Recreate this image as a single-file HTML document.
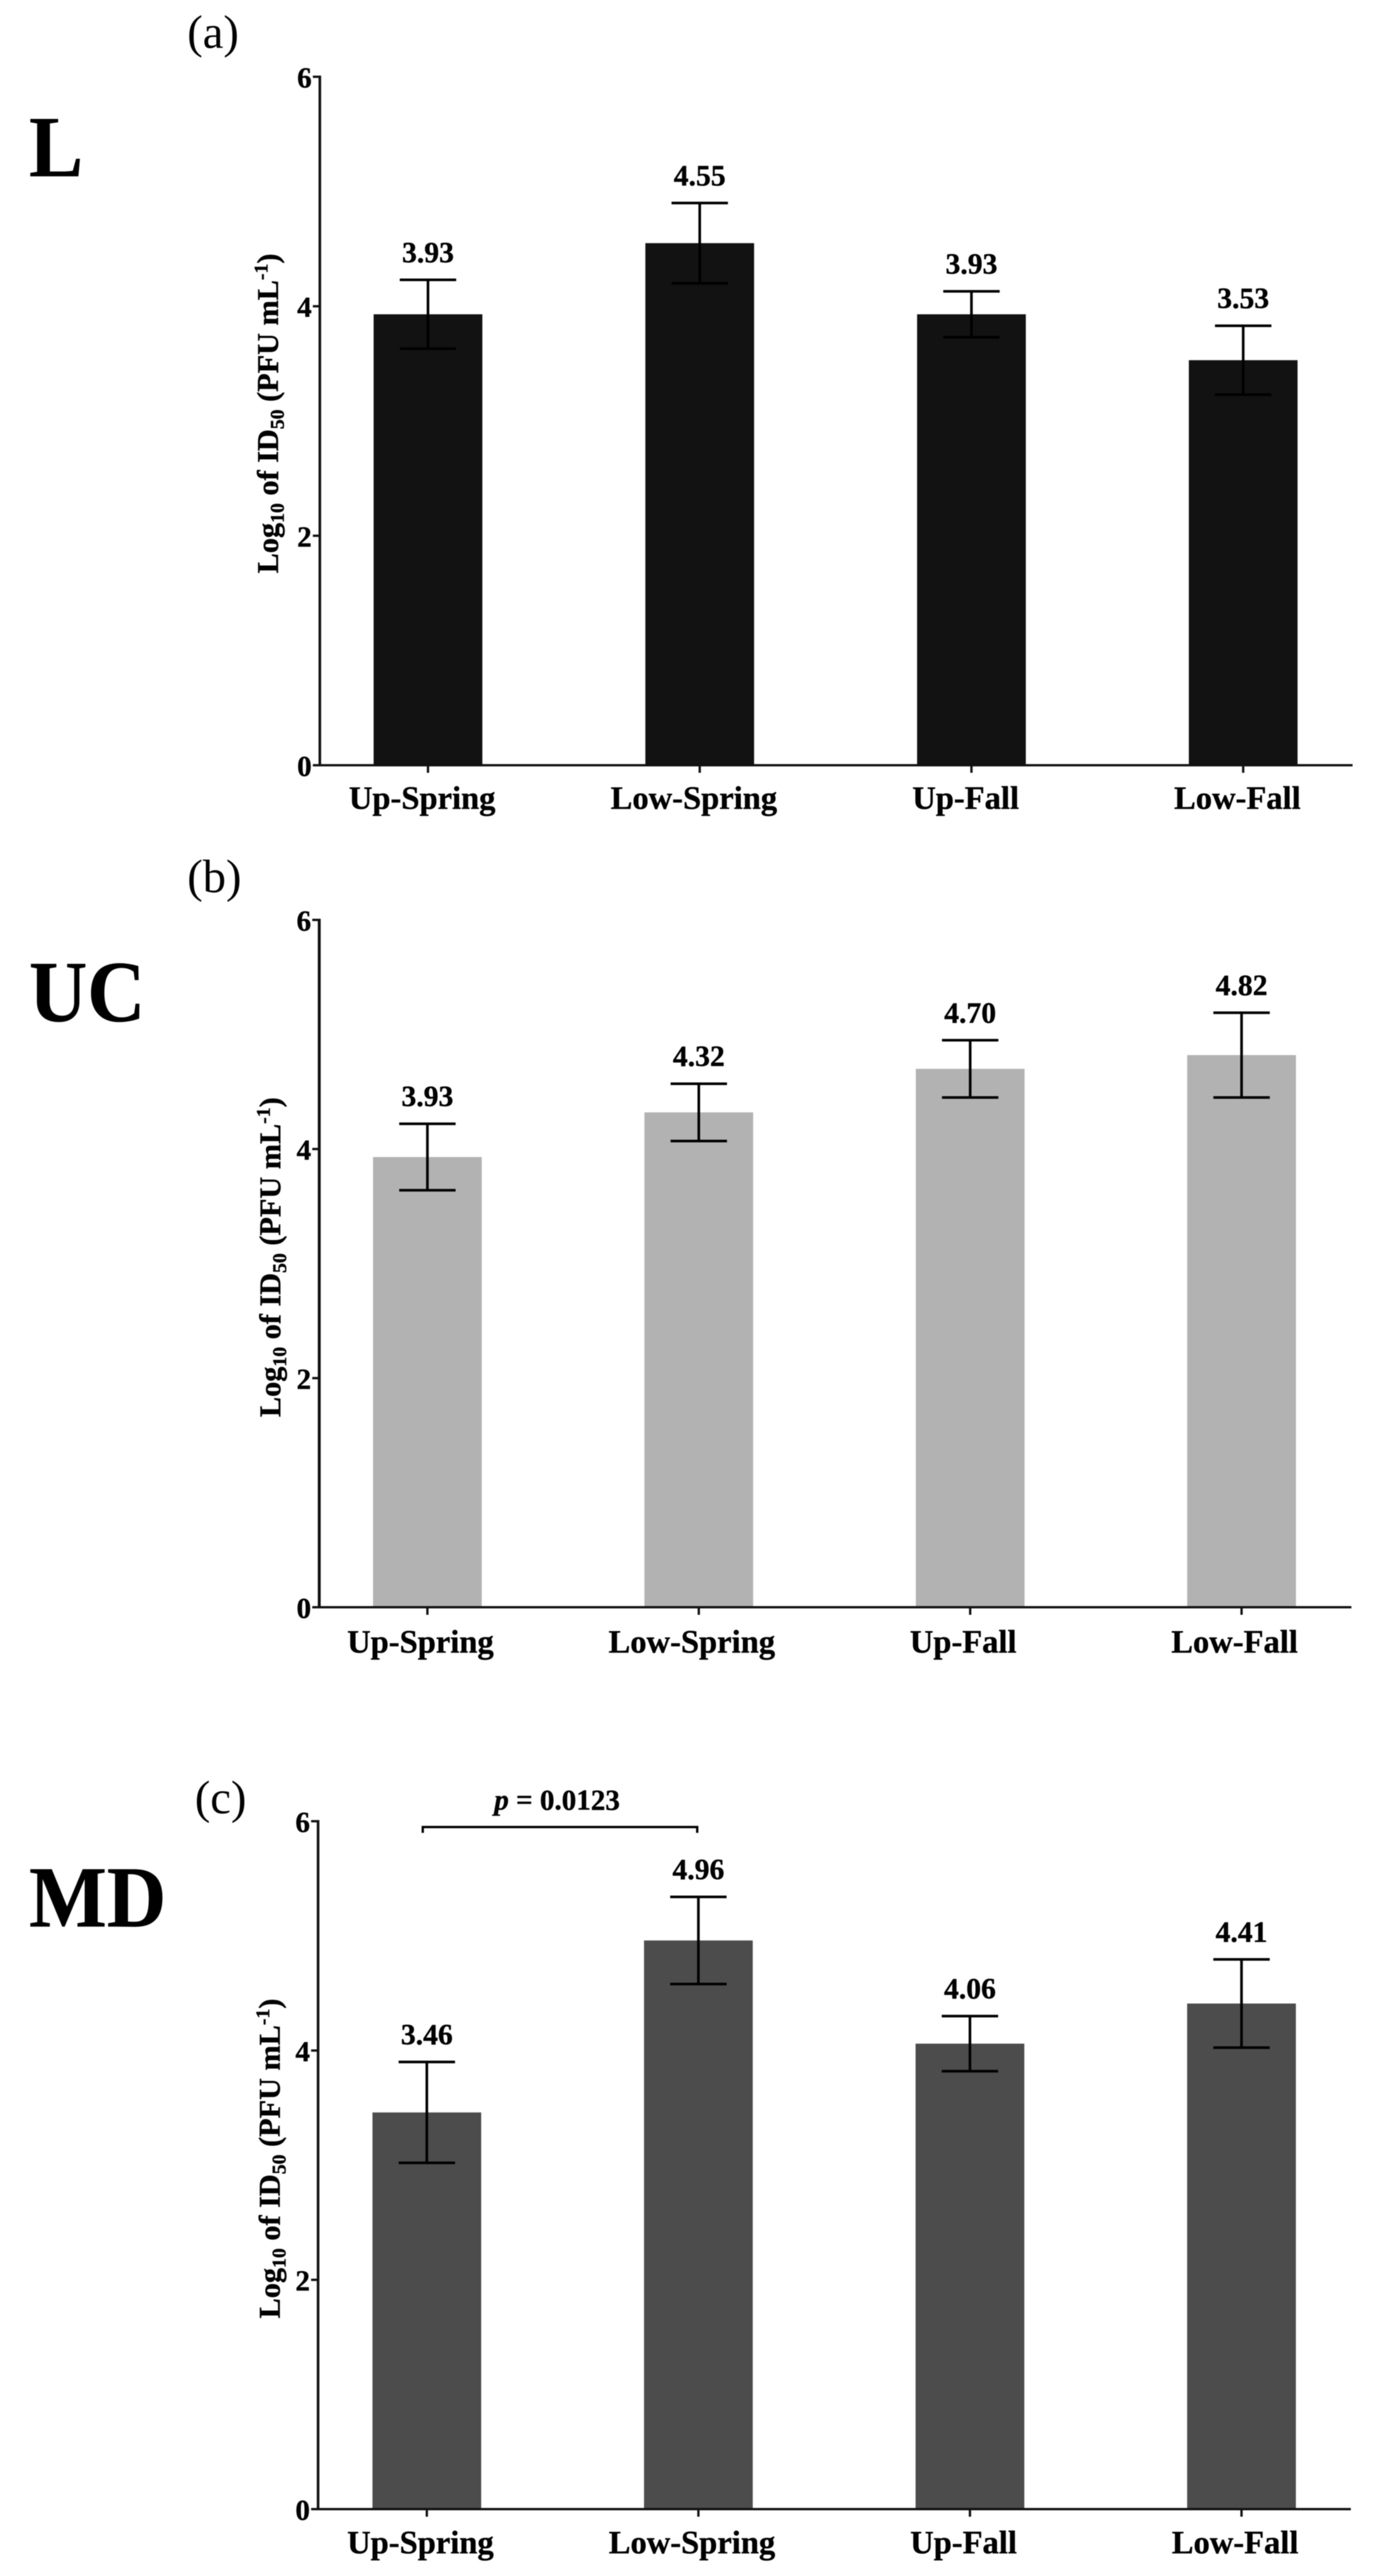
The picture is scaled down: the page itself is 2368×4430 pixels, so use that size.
<!DOCTYPE html>
<html lang="en">
<head>
<meta charset="utf-8">
<title>Log10 of ID50 by site and season</title>
<style>
html,body{margin:0;padding:0;background:#fff;width:2368px;height:4430px;overflow:hidden}
svg{display:block;filter:blur(0.7px)}
text{font-family:"Liberation Serif",serif;fill:#000}
.b,text[font-weight="bold"]{font-weight:bold;stroke:#000;stroke-width:0.6px}
</style>
</head>
<body>
<svg id="chart" xmlns="http://www.w3.org/2000/svg" width="2368" height="4430" viewBox="0 0 2368 4430">
  <rect x="0" y="0" width="2368" height="4430" fill="#fff"/>

  <text x="322" y="82" font-size="80">(a)</text>
  <text x="322" y="1534" font-size="80">(b)</text>
  <text x="335" y="3118" font-size="80">(c)</text>

  <text class="b" x="50" y="303" font-size="150" textLength="93" lengthAdjust="spacingAndGlyphs">L</text>
  <text class="b" x="50" y="1756" font-size="150" textLength="200" lengthAdjust="spacingAndGlyphs">UC</text>
  <text class="b" x="50" y="3313" font-size="150" textLength="236" lengthAdjust="spacingAndGlyphs">MD</text>

  <text class="b" transform="rotate(-90 478 711)" x="478" y="711" font-size="52" text-anchor="middle">Log<tspan font-size="34" dy="10">10</tspan><tspan dy="-10"> of ID</tspan><tspan font-size="34" dy="10">50</tspan><tspan dy="-10"> (PFU mL</tspan><tspan font-size="34" dy="-18">-1</tspan><tspan dy="18">)</tspan></text>
  <text class="b" transform="rotate(-90 482 2162)" x="482" y="2162" font-size="52" text-anchor="middle">Log<tspan font-size="34" dy="10">10</tspan><tspan dy="-10"> of ID</tspan><tspan font-size="34" dy="10">50</tspan><tspan dy="-10"> (PFU mL</tspan><tspan font-size="34" dy="-18">-1</tspan><tspan dy="18">)</tspan></text>
  <text class="b" transform="rotate(-90 481 3712)" x="481" y="3712" font-size="52" text-anchor="middle">Log<tspan font-size="34" dy="10">10</tspan><tspan dy="-10"> of ID</tspan><tspan font-size="34" dy="10">50</tspan><tspan dy="-10"> (PFU mL</tspan><tspan font-size="34" dy="-18">-1</tspan><tspan dy="18">)</tspan></text>

  <path d="M727 3152 V3142 H1199 V3152" fill="none" stroke="#000" stroke-width="4"/>
  <text class="b" x="958" y="3112" font-size="50" text-anchor="middle"><tspan font-style="italic">p</tspan> = 0.0123</text>
</svg>

<script>
const categories = ['Up-Spring', 'Low-Spring', 'Up-Fall', 'Low-Fall'];
const yTickLabels = [0, 2, 4, 6];

const valuesL = [3.93, 4.55, 3.93, 3.53];
const errorsL = [0.30, 0.35, 0.20, 0.30];

const valuesUC = [3.93, 4.32, 4.70, 4.82];
const errorsUC = [0.29, 0.25, 0.25, 0.37];

const valuesMD = [3.46, 4.96, 4.06, 4.41];
const errorsMD = [0.44, 0.38, 0.24, 0.385];

const SVG_NS = 'http://www.w3.org/2000/svg';
const svg = document.getElementById('chart');
const Y_MAX = 6;
const BAR_W = 187;
const CAP_W = 97;

function add(tag, attrs, parent) {
  const el = document.createElementNS(SVG_NS, tag);
  for (const k in attrs) el.setAttribute(k, attrs[k]);
  parent.appendChild(el);
  return el;
}

function drawPanel(p) {
  const y = v => p.y0 - (v / Y_MAX) * (p.y0 - p.yTop);
  const x = i => p.xFirst + i * p.xStep;

  const g = add('g', {}, svg);
  
  

  p.values.forEach((v, i) => {
    const bar = add('rect', { x: x(i) - BAR_W / 2, y: y(v), width: BAR_W, height: p.y0 - y(v), fill: p.fill }, g);
    
    
  });

  const yAxis = add('line', { x1: p.axisX, x2: p.axisX, y1: p.yTop - 2, y2: p.y0 + 2, stroke: '#111', 'stroke-width': p.axisW }, g);
  
  

  const xAxis = add('line', { x1: p.axisX, x2: p.xEnd, y1: p.y0, y2: p.y0, stroke: '#111', 'stroke-width': 4 }, g);
  
  

  yTickLabels.forEach(t => {
    const tick = add('line', { x1: p.axisX - 12, x2: p.axisX, y1: y(t), y2: y(t), stroke: '#111', 'stroke-width': 4 }, g);
    
    
    const lab = add('text', { x: p.axisX - 14, y: y(t) + 18, 'font-size': 50, 'text-anchor': 'end', 'font-weight': 'bold' }, g);
    lab.textContent = String(t);
    
    
  });

  categories.forEach((c, i) => {
    const tick = add('line', { x1: x(i), x2: x(i), y1: p.y0, y2: p.y0 + 13, stroke: '#111', 'stroke-width': 4 }, g);
    
    
    const lab = add('text', { x: x(i) + p.labelShift, y: p.labelY, 'font-size': 56, 'text-anchor': 'middle', 'font-weight': 'bold' }, g);
    lab.textContent = c;
    
    
  });

  p.values.forEach((v, i) => {
    const e = p.errors[i];
    const top = y(v + e), bot = y(v - e), cx = x(i);
    const stem = add('line', { x1: cx, x2: cx, y1: top, y2: bot, stroke: '#000', 'stroke-width': 4.5 }, g);
    
    
    const capTop = add('line', { x1: cx - CAP_W / 2, x2: cx + CAP_W / 2, y1: top, y2: top, stroke: '#000', 'stroke-width': 4.5 }, g);
    
    
    const capBot = add('line', { x1: cx - CAP_W / 2, x2: cx + CAP_W / 2, y1: bot, y2: bot, stroke: '#000', 'stroke-width': 4.5 }, g);
    
    
    const val = add('text', { x: cx, y: top - 30, 'font-size': 51, 'text-anchor': 'middle', 'font-weight': 'bold' }, g);
    val.textContent = v.toFixed(2);
    
    
  });
}

drawPanel({ id: 'l', values: valuesL, errors: errorsL, fill: '#121212', axisX: 550, axisW: 4.5, yTop: 132, y0: 1316, xFirst: 736, xStep: 467.3, xEnd: 2326, labelY: 1391, labelShift: -10 });
drawPanel({ id: 'uc', values: valuesUC, errors: errorsUC, fill: '#b2b2b2', axisX: 549, axisW: 5, yTop: 1582, y0: 2764, xFirst: 735, xStep: 466.7, xEnd: 2324, labelY: 2842, labelShift: -12 });
drawPanel({ id: 'md', values: valuesMD, errors: errorsMD, fill: '#4c4c4c', axisX: 547, axisW: 4.5, yTop: 3132, y0: 4315, xFirst: 734, xStep: 467, xEnd: 2323, labelY: 4391, labelShift: -11 });
</script>
</body>
</html>
